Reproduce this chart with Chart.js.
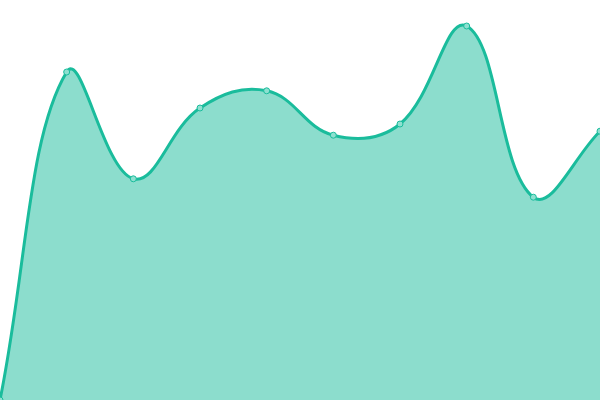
<!DOCTYPE html>
<html>
<head>
<meta charset="utf-8">
<script src="https://cdn.jsdelivr.net/npm/chart.js@4/dist/chart.umd.min.js"></script>
<style>
  html, body { margin: 0; padding: 0; background: #fff; }
  #wrap { width: 600px; height: 400px; }
</style>
</head>
<body>
<div id="wrap"><canvas id="myChart"></canvas></div>
<script>
const labels = ['1', '2', '3', '4', '5', '6', '7', '8', '9', '10'];
const values = [0, 82, 55.3, 73, 77.3, 66.2, 69, 93.5, 50.7, 67.2];

const ctx = document.getElementById('myChart').getContext('2d');
const myChart = new Chart(ctx, {
  type: 'line',
  data: {
    labels: labels,
    datasets: [{
      data: values,
      borderColor: '#1abc9c',
      backgroundColor: 'rgba(26, 188, 156, 0.5)',
      fill: true,
      tension: 0.4,
      borderWidth: 3,
      pointRadius: 3,
      pointBorderWidth: 1,
      pointBackgroundColor: '#8ee0d0',
      pointBorderColor: '#1abc9c'
    }]
  },
  options: {
    responsive: true,
    maintainAspectRatio: false,
    animation: false,
    layout: { padding: 0, autoPadding: false },
    plugins: { legend: { display: false }, tooltip: { enabled: false } },
    scales: {
      x: { display: false, offset: false },
      y: { display: false, min: 0, max: 100 }
    }
  }
});
</script>
</body>
</html>
